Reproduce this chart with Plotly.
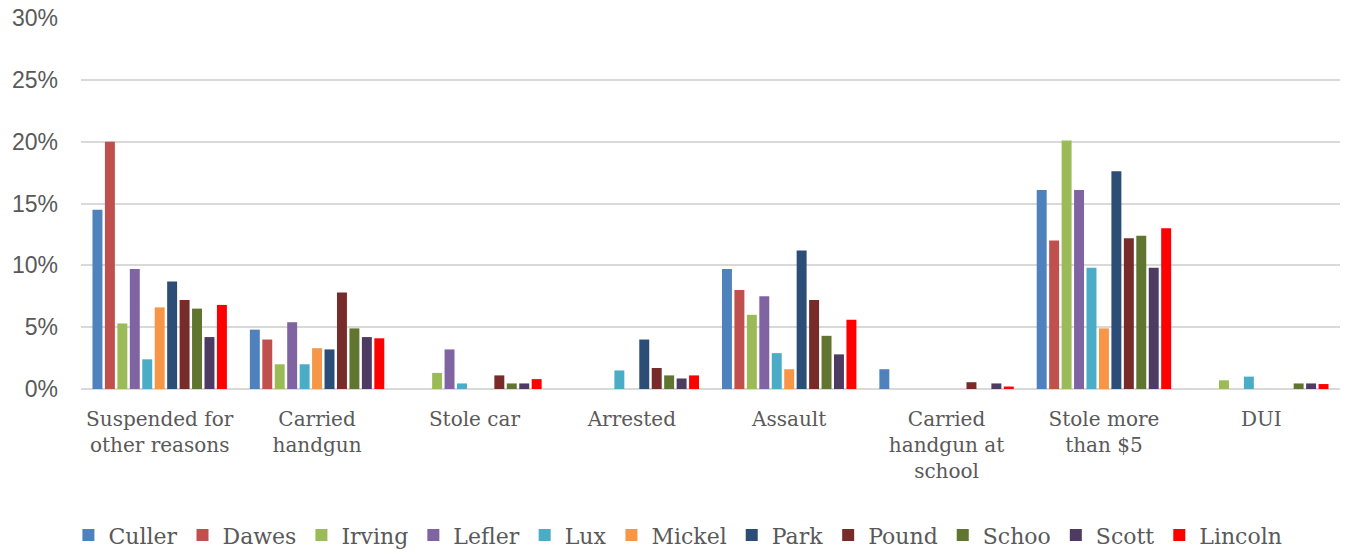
import plotly.graph_objects as go

categories = [
    "Suspended for<br>other reasons",
    "Carried<br>handgun",
    "Stole car",
    "Arrested",
    "Assault",
    "Carried<br>handgun at<br>school",
    "Stole more<br>than $5",
    "DUI",
]

schools = ["Culler", "Dawes", "Irving", "Lefler", "Lux", "Mickel", "Park",
           "Pound", "Schoo", "Scott", "Lincoln"]

culler  = [14.5, 4.8, 0.0, 0.0, 9.7, 1.6, 16.1, 0.0]
dawes   = [20.0, 4.0, 0.0, 0.0, 8.0, 0.0, 12.0, 0.0]
irving  = [5.3, 2.0, 1.3, 0.0, 6.0, 0.0, 20.1, 0.7]
lefler  = [9.7, 5.4, 3.2, 0.0, 7.5, 0.0, 16.1, 0.0]
lux     = [2.4, 2.0, 0.45, 1.5, 2.9, 0.0, 9.8, 1.0]
mickel  = [6.6, 3.3, 0.0, 0.0, 1.6, 0.0, 4.9, 0.0]
park    = [8.7, 3.2, 0.0, 4.0, 11.2, 0.0, 17.6, 0.0]
pound   = [7.2, 7.8, 1.1, 1.7, 7.2, 0.55, 12.2, 0.0]
schoo   = [6.5, 4.9, 0.45, 1.1, 4.3, 0.0, 12.4, 0.45]
scott   = [4.2, 4.2, 0.45, 0.85, 2.8, 0.45, 9.8, 0.45]
lincoln = [6.8, 4.1, 0.8, 1.1, 5.6, 0.2, 13.0, 0.4]

series = [culler, dawes, irving, lefler, lux, mickel, park, pound, schoo, scott, lincoln]

colors = ["#4F81BD", "#C0504D", "#9BBB59", "#8064A2", "#4BACC6", "#F79646",
          "#2C4D75", "#772C2A", "#5F7530", "#4D3B62", "#FF0000"]

y_ticks = [0, 5, 10, 15, 20, 25, 30]
y_labels = ["0%", "5%", "10%", "15%", "20%", "25%", "30%"]

fig = go.Figure()
for name, vals, col in zip(schools, series, colors):
    fig.add_trace(go.Bar(
        name=name, x=categories, y=vals,
        marker=dict(color=col, line=dict(width=0)),
    ))

fig.update_layout(
    barmode="group",
    bargap=0.13,
    bargroupgap=0.2,
    width=1354, height=554,
    margin=dict(l=81, r=14, t=18, b=165, autoexpand=False),
    paper_bgcolor="white",
    plot_bgcolor="white",
    showlegend=True,
    legend=dict(
        orientation="h",
        x=-0.01, xanchor="left",
        y=-0.394, yanchor="middle",
        font=dict(family="DejaVu Serif", size=22, color="#595959"),
        itemwidth=30,
        tracegroupgap=0,
    ),
    xaxis=dict(
        tickfont=dict(family="DejaVu Serif", size=20, color="#595959"),
        showgrid=False,
        showline=False,
        ticks="",
        automargin=False,
        ticklabelstandoff=16,
    ),
    yaxis=dict(
        range=[0, 30],
        tickvals=y_ticks,
        ticktext=y_labels,
        tickfont=dict(family="Liberation Sans", size=23, color="#595959"),
        showgrid=True,
        gridcolor="#D9D9D9",
        gridwidth=2,
        zeroline=True,
        zerolinecolor="#D9D9D9",
        zerolinewidth=2,
        showline=False,
        ticks="",
        automargin=False,
        ticklabelstandoff=22,
    ),
)

fig.write_html("out.html")
